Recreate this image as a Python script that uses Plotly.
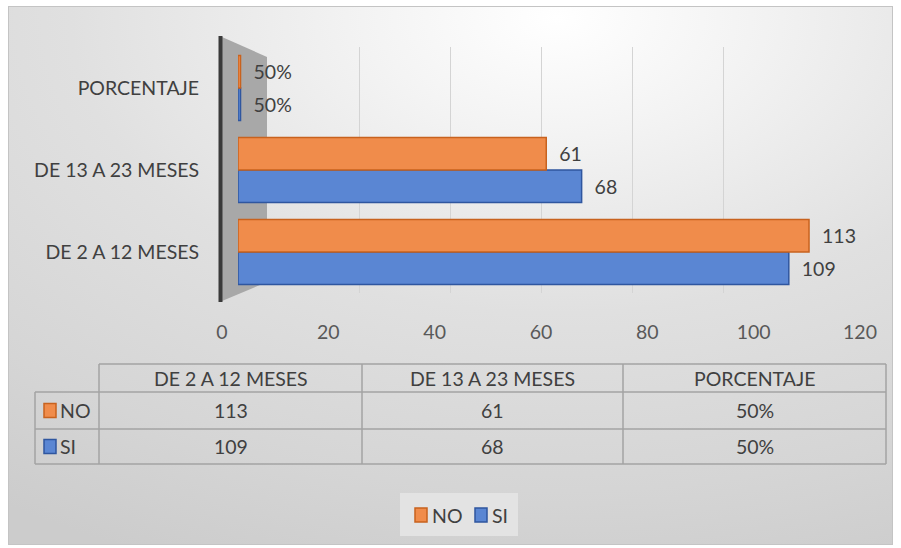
import base64
import plotly.graph_objects as go

# ---- data -------------------------------------------------------------
categorias = ["DE 2 A 12 MESES", "DE 13 A 23 MESES", "PORCENTAJE"]
series_names = ["NO", "SI"]
no_vals = [113, 61, 0.5]
si_vals = [109, 68, 0.5]
x_ticks = [0, 20, 40, 60, 80, 100, 120]

# ---- styling ----------------------------------------------------------
W, H = 901, 548
FONT = "Lato"
FS = 19.5
TXT = "#404040"
ORANGE, ORANGE_LINE = "#F08C4B", "#C8621E"
BLUE, BLUE_LINE = "#5A86D3", "#2F569F"
NBSP = "\u00a0"


def px(x):
    return x / W


def py(y):
    return 1 - y / H


def fmt(v):
    return f"{v:.0%}" if v < 1 else f"{v:g}"


fig = go.Figure()

# bars (SI first so it sits below NO inside each group)
for name, vals, fill, line in [
    ("SI", si_vals, BLUE, BLUE_LINE),
    ("NO", no_vals, ORANGE, ORANGE_LINE),
]:
    fig.add_trace(go.Bar(
        name=name, y=categorias, x=vals, orientation="h",
        xaxis="x2", yaxis="y",
        marker=dict(color=fill, line=dict(color=line, width=1.5)),
        text=[NBSP * 2 + fmt(v) for v in vals], textposition="outside",
        textfont=dict(family=FONT, size=FS, color=TXT),
        cliponaxis=False, showlegend=False,
    ))

# invisible helpers so the grid axis and the tick-label axis get drawn
for ax in ("x", "x3"):
    fig.add_trace(go.Scatter(
        x=[x_ticks[0], x_ticks[-1]], y=[categorias[0], categorias[0]],
        xaxis=ax, yaxis="y", mode="markers", marker=dict(opacity=0),
        hoverinfo="skip", showlegend=False,
    ))

# ---- background panel with soft radial shading -------------------------
svg = (
    '<svg xmlns="http://www.w3.org/2000/svg" width="885" height="539" '
    'viewBox="0 0 885 539" preserveAspectRatio="none">'
    '<defs><radialGradient id="g" cx="0.62" cy="0.02" r="1.1">'
    '<stop offset="0" stop-color="#ffffff"/>'
    '<stop offset="0.2" stop-color="#f3f3f3"/>'
    '<stop offset="0.5" stop-color="#e0e0e0"/>'
    '<stop offset="0.8" stop-color="#d5d5d5"/>'
    '<stop offset="1" stop-color="#cccccc"/>'
    '</radialGradient></defs>'
    '<rect x="0.5" y="0.5" width="884" height="538" fill="url(#g)" '
    'stroke="#c4c4c4" stroke-width="1"/></svg>'
)
bg_src = "data:image/svg+xml;base64," + base64.b64encode(svg.encode()).decode()

shapes = []
annotations = []

# side wall of the 3-D plot area
shapes.append(dict(
    type="path", xref="paper", yref="paper", layer="below",
    path=(f"M {px(222)} {py(37)} L {px(267)} {py(57)} L {px(267)} {py(282)} "
          f"L {px(222)} {py(301)} Z"),
    fillcolor="#a8a8a8", line=dict(width=0),
))
shapes.append(dict(
    type="line", xref="paper", yref="paper", layer="above",
    x0=px(220.5), x1=px(220.5), y0=py(36), y1=py(302),
    line=dict(color="#3a3a3a", width=4),
))

# ---- data table -----------------------------------------------------------
LINE = "#a3a3a3"
col_x = [35, 99, 362, 623, 886]
row_y = [364, 392, 429, 464]
shapes.append(dict(type="line", xref="paper", yref="paper",
                   x0=px(col_x[1]), x1=px(col_x[-1]), y0=py(row_y[0]), y1=py(row_y[0]),
                   line=dict(color=LINE, width=1.5)))
for yy in row_y[1:]:
    shapes.append(dict(type="line", xref="paper", yref="paper",
                       x0=px(col_x[0]), x1=px(col_x[-1]), y0=py(yy), y1=py(yy),
                       line=dict(color=LINE, width=1.5)))
shapes.append(dict(type="line", xref="paper", yref="paper",
                   x0=px(col_x[0]), x1=px(col_x[0]), y0=py(row_y[1]), y1=py(row_y[-1]),
                   line=dict(color=LINE, width=1.5)))
for xx in col_x[1:]:
    shapes.append(dict(type="line", xref="paper", yref="paper",
                       x0=px(xx), x1=px(xx), y0=py(row_y[0]), y1=py(row_y[-1]),
                       line=dict(color=LINE, width=1.5)))

TFONT = dict(family=FONT, size=FS, color=TXT)


def label(x, y, text, anchor="center"):
    annotations.append(dict(xref="paper", yref="paper", x=px(x), y=py(y),
                            xanchor=anchor, yanchor="middle", text=text,
                            showarrow=False, font=TFONT))


for i, cat in enumerate(categorias):
    cx = (col_x[i + 1] + col_x[i + 2]) / 2
    label(cx, (row_y[0] + row_y[1]) / 2, cat)
    for r, vals in enumerate([no_vals, si_vals]):
        label(cx, (row_y[r + 1] + row_y[r + 2]) / 2, fmt(vals[i]))

# legend keys inside the table
keys = [(series_names[0], ORANGE, ORANGE_LINE), (series_names[1], BLUE, BLUE_LINE)]
for r, (name, fill, line) in enumerate(keys):
    yc = (row_y[r + 1] + row_y[r + 2]) / 2
    shapes.append(dict(type="rect", xref="paper", yref="paper",
                       x0=px(44), x1=px(56), y0=py(yc - 7), y1=py(yc + 7),
                       fillcolor=fill, line=dict(color=line, width=1.5)))
    label(58, yc, name, anchor="left")

# ---- legend below the table ---------------------------------------------
shapes.append(dict(type="rect", xref="paper", yref="paper", layer="below",
                   x0=px(400), x1=px(518), y0=py(493), y1=py(536),
                   fillcolor="#e3e3e3", line=dict(width=0)))
leg_x = [(415, 430), (475, 490)]
for (sq_x, tx), (name, fill, line) in zip(leg_x, keys):
    shapes.append(dict(type="rect", xref="paper", yref="paper",
                       x0=px(sq_x), x1=px(sq_x + 12), y0=py(508), y1=py(522),
                       fillcolor=fill, line=dict(color=line, width=1.5)))
    label(tx, 515, name, anchor="left")

noauto = dict(automargin=False)
fig.update_layout(
    width=W, height=H,
    margin=dict(l=0, r=0, t=0, b=0, pad=0),
    paper_bgcolor="white", plot_bgcolor="rgba(0,0,0,0)",
    font=dict(family=FONT, color=TXT),
    showlegend=False,
    barmode="group", bargap=0.21, bargroupgap=0.0,
    images=[dict(source=bg_src, xref="paper", yref="paper",
                 x=px(8), y=py(6), sizex=885 / W, sizey=539 / H,
                 xanchor="left", yanchor="top", sizing="stretch", layer="below")],
    # back-wall gridlines
    xaxis=dict(domain=[px(268), px(814)], range=[0, 120], anchor="y",
               tickvals=x_ticks, showticklabels=False, showgrid=True,
               gridcolor="#d4d4d4", gridwidth=1, zeroline=False,
               showline=False, ticks="", fixedrange=True, **noauto),
    # bar scale
    xaxis2=dict(domain=[px(238), px(844.4)], range=[0, 120], anchor="y",
                showticklabels=False, showgrid=False, zeroline=False,
                showline=False, ticks="", **noauto),
    # front-edge tick labels
    xaxis3=dict(domain=[px(222), px(860)], range=[0, 120], anchor="free",
                position=py(318), tickvals=x_ticks, showgrid=False,
                zeroline=False, showline=False, ticks="",
                tickfont=dict(family=FONT, size=FS, color="#595959"), **noauto),
    yaxis=dict(domain=[py(293), py(47)], type="category", anchor="x2",
               categoryorder="array", categoryarray=categorias,
               range=[-0.5, 2.5], showgrid=False, zeroline=False,
               showline=False, ticks="outside", ticklen=34,
               tickcolor="rgba(0,0,0,0)",
               tickfont=dict(family=FONT, size=FS, color=TXT), **noauto),
    shapes=shapes,
    annotations=annotations,
)

fig.write_html("out.html")
